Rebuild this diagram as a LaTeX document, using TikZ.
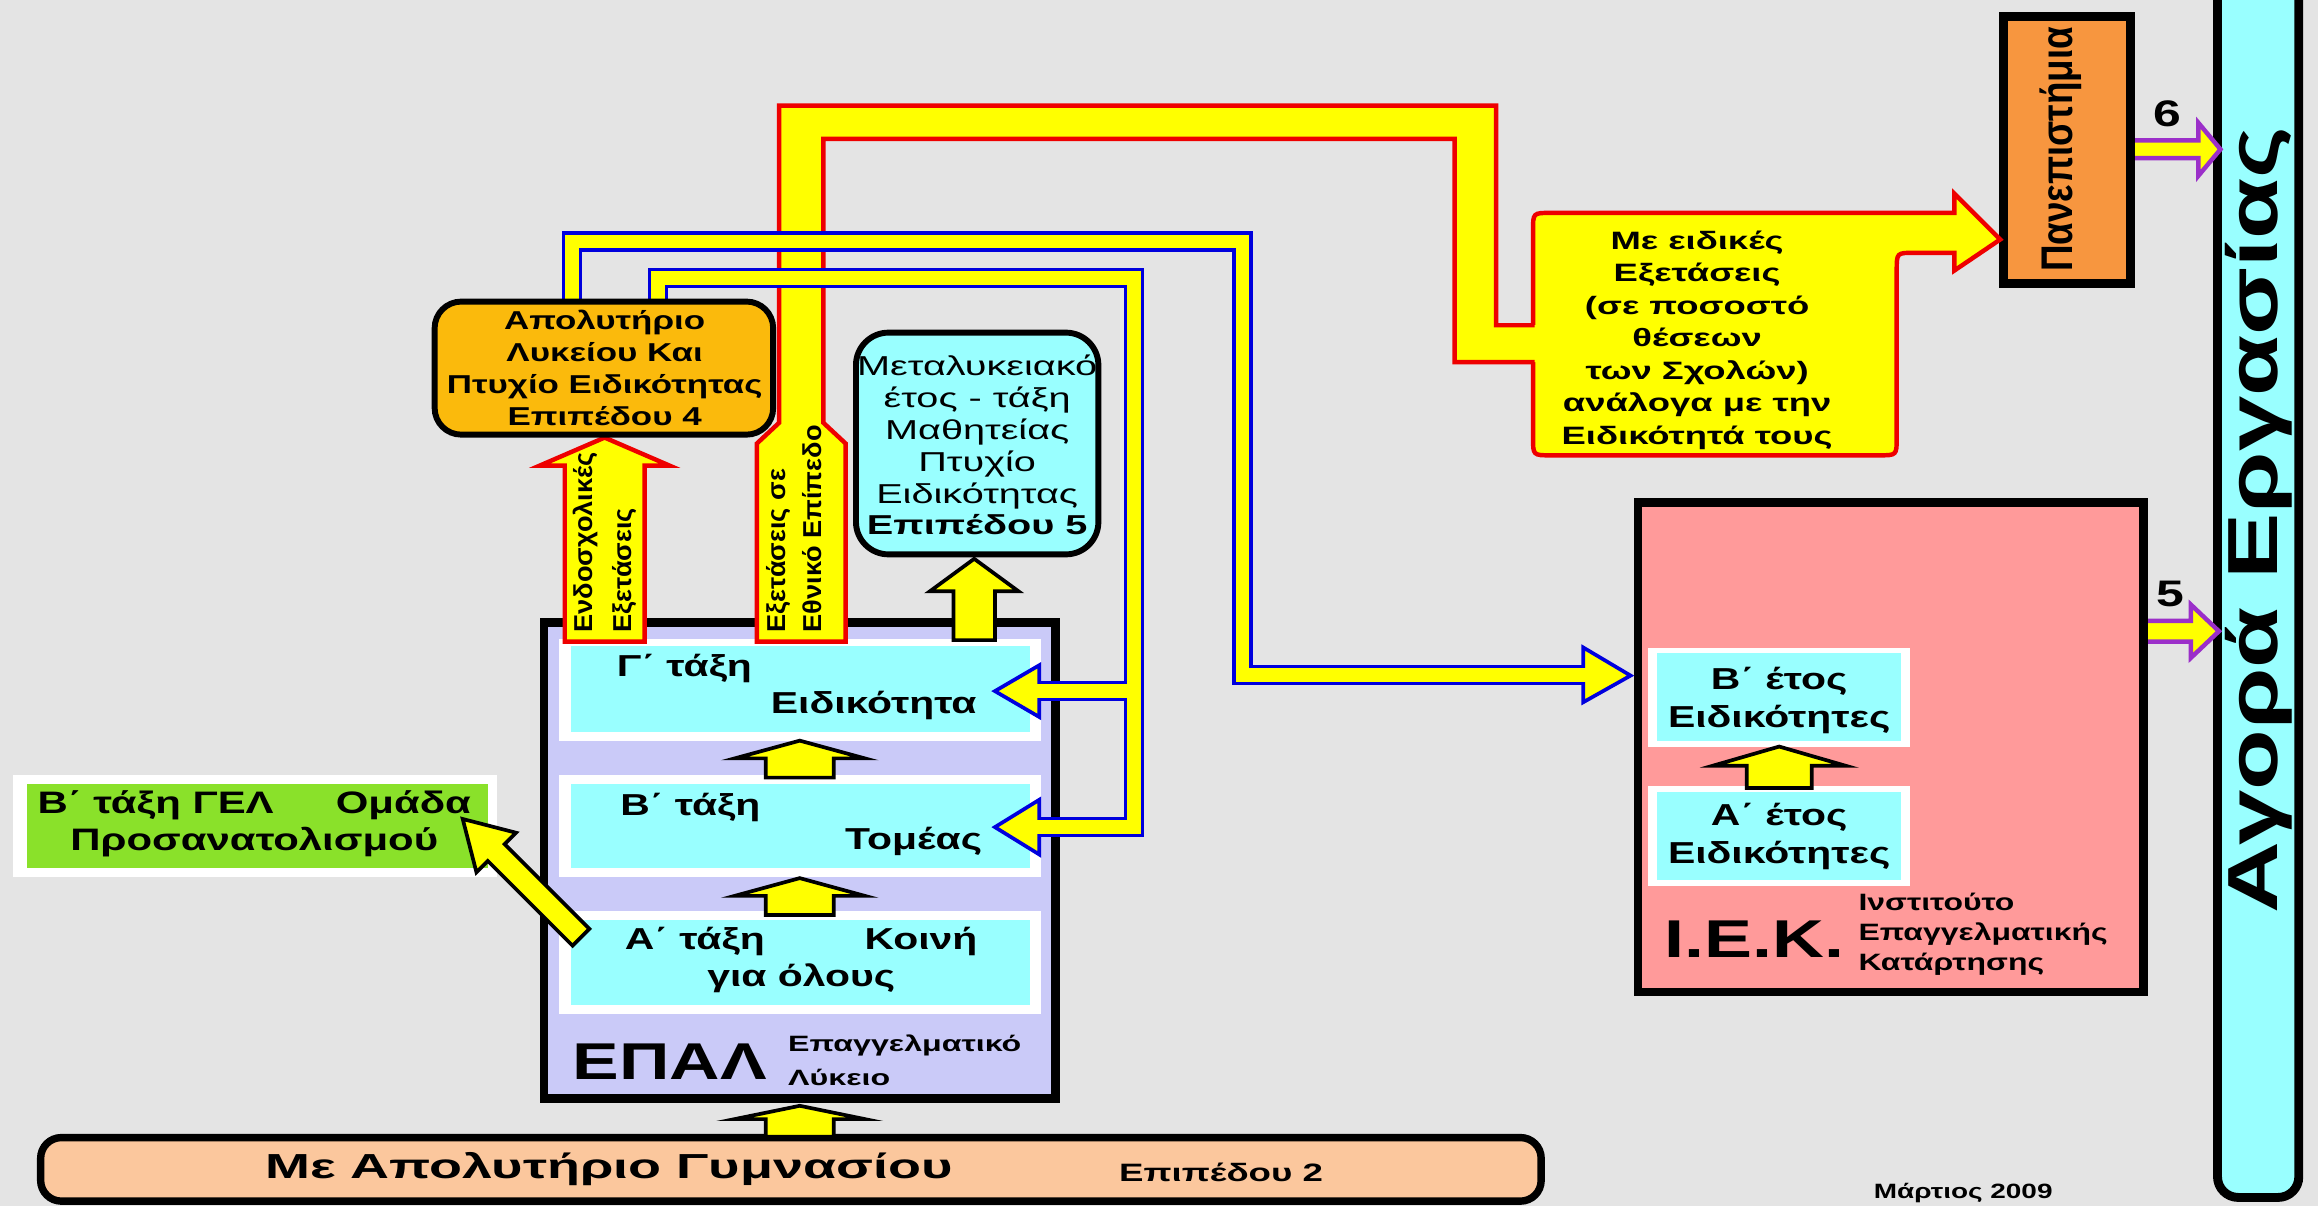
\documentclass[tikz,border=0pt]{standalone}
\usepackage{fontspec}
\setmainfont{Liberation Sans}[FakeStretch=1.35]
\newfontfamily\fN{Liberation Sans}[FakeStretch=1.05]
\newfontfamily\fP{Liberation Sans}[FakeStretch=0.83]
\newfontfamily\fW{Liberation Sans}[FakeStretch=1.4]
\newfontfamily\fM{Liberation Sans}[FakeStretch=1.45]
\newfontfamily\fC{Liberation Sans}[FakeStretch=1.45]
\newcommand\fsz[2]{\fontsize{#1}{#2}\selectfont}
\definecolor{bgc}{HTML}{E4E4E4}
\definecolor{cyanc}{HTML}{99FFFF}
\definecolor{peach}{HTML}{FBC79D}
\definecolor{lav}{HTML}{CACAF8}
\definecolor{greenc}{HTML}{8AE12A}
\definecolor{orangec}{HTML}{FBBA0C}
\definecolor{unic}{HTML}{F7963F}
\definecolor{pinkc}{HTML}{FF9A9A}
\definecolor{yel}{HTML}{FFFF00}
\definecolor{redc}{HTML}{EE0000}
\definecolor{bluec}{HTML}{0000DD}
\definecolor{purp}{HTML}{9B2FC9}
\newcommand\UpArr[7][yarrow]{\draw[#1] ({#2-#6},#4) -- (#2,#3) -- ({#2+#6},#4) -- ({#2+#7},#4) -- ({#2+#7},#5) -- ({#2-#7},#5) -- ({#2-#7},#4) -- cycle;}
\begin{document}
\begin{tikzpicture}[x=1pt,y=-1pt,line join=miter,
  box/.style={draw=black,inner sep=0,line width=#1},
  txt/.style={inner sep=0,align=center,text=black},
  yarrow/.style={fill=yel,draw=black,line width=2.5},
  rarrow/.style={fill=yel,draw=redc,line width=3},
  parrow/.style={fill=yel,draw=purp,line width=3},
  barrow/.style={fill=yel,draw=bluec,line width=2.5},
  bandout/.style={draw=bluec,line width=14},
  bandin/.style={draw=yel,line width=9}]
\fill[bgc] (0,0) rectangle (1568,816);
\useasboundingbox (0,0) rectangle (1568,816);
\clip (0,0) rectangle (1568,816);

% labour market bar
\node[box=6,fill=cyanc,rounded corners=14,minimum width=55,minimum height=860] (agora) at (1527.5,380) {};
\node[txt,rotate=90,font=\fW\bfseries\fsz{48}{50}] (agoraT) at (1528,352) {Αγορά Εργασίας};

% purple arrows 6 and 5
\draw[parrow] (1441,95) -- (1487,95) -- (1487,83) -- (1502,101) -- (1487,119) -- (1487,107) -- (1441,107);
\draw[parrow] (1449,420) -- (1482,420) -- (1482,409) -- (1501,427) -- (1482,445) -- (1482,434) -- (1449,434);

% universities
\node[box=6,fill=unic,minimum width=86,minimum height=181] (uni) at (1398,101.5) {};
\node[txt,rotate=90,font=\fP\bfseries\fsz{30}{32}] (uniT) at (1394,101) {Πανεπιστήμια};
\node[txt,font=\bfseries\fsz{25}{25}] (six) at (1466,77) {6};
\node[txt,font=\bfseries\fsz{25}{25}] (five) at (1468,402) {5};

% IEK
\node[box=6,fill=pinkc,minimum width=342,minimum height=331] (iek) at (1279,505.5) {};
\node[fill=white,inner sep=0,minimum width=177,minimum height=67] (ibw) at (1203.5,471.5) {};
\node[fill=cyanc,inner sep=0,minimum width=165,minimum height=59] (ib) at (1203.5,471.5) {};
\node[fill=white,inner sep=0,minimum width=177,minimum height=67] (iaw) at (1203.5,565.5) {};
\node[fill=cyanc,inner sep=0,minimum width=165,minimum height=59] (ia) at (1203.5,565.5) {};
\UpArr{1203.5}{505}{518}{533}{45}{22}
\node[txt,font=\bfseries\fsz{20.5}{25.5}] (ibT) at (1203.5,474) {Β΄ έτος\\Ειδικότητες};
\node[txt,font=\bfseries\fsz{20.5}{25.5}] (iaT) at (1203.5,566) {Α΄ έτος\\Ειδικότητες};
\node[txt,font=\bfseries\fsz{36}{36}] (iekT) at (1187,635) {Ι.Ε.Κ.};
\node[txt,align=left,anchor=west,font=\bfseries\fsz{16}{20.5}] (iekS) at (1257,632) {Ινστιτούτο\\Επαγγελματικής\\Κατάρτησης};

% gymnasium bar
\node[box=5,fill=peach,rounded corners=14,minimum width=1015,minimum height=43] (gym) at (535,791) {};
\node[txt,font=\bfseries\fsz{23.5}{24}] (gymT) at (412,791) {\scalebox{1.15}[1]{Με Απολυτήριο Γυμνασίου}};
\node[txt,font=\bfseries\fsz{17}{17}] (gymL) at (826,793) {\scalebox{1.08}[1]{Επιπέδου 2}};

% EPAL
\node[box=6,fill=lav,minimum width=346,minimum height=322] (epal) at (541,582) {};
\node[fill=white,inner sep=0,minimum width=326,minimum height=69] (gw) at (541,466.5) {};
\node[fill=cyanc,inner sep=0,minimum width=311,minimum height=58] (g) at (541.5,466) {};
\node[fill=white,inner sep=0,minimum width=326,minimum height=69] (bw) at (541,558.5) {};
\node[fill=cyanc,inner sep=0,minimum width=311,minimum height=57] (b) at (541.5,558.5) {};
\node[fill=white,inner sep=0,minimum width=326,minimum height=70] (aw) at (541,651) {};
\node[fill=cyanc,inner sep=0,minimum width=311,minimum height=58] (a) at (541.5,651) {};
\UpArr{541}{501}{513}{526}{44}{23}
\UpArr{541}{594}{606}{619}{44}{23}
\UpArr{541}{748}{757}{769}{44}{23}
\tikzset{stxt/.style={txt,font=\bfseries\fsz{20.5}{20.5}}}
\node[stxt] (gT1) at (463,452) {Γ΄ τάξη};
\node[stxt] (gT2) at (591,477) {Ειδικότητα};
\node[stxt] (bT1) at (467,546) {Β΄ τάξη};
\node[stxt] (bT2) at (618,569) {Τομέας};
\node[stxt] (aT1) at (470,637) {Α΄ τάξη};
\node[stxt] (aT2) at (623,637) {Κοινή};
\node[stxt] (aT3) at (542,662) {για όλους};
\node[txt,font=\bfseries\fsz{35}{35}] (epalT) at (453,718) {ΕΠΑΛ};
\node[txt,anchor=west,font=\fM\bfseries\fsz{15}{15}] (epalS1) at (533,707) {Επαγγελματικό};
\node[txt,anchor=west,font=\fM\bfseries\fsz{15}{15}] (epalS2) at (533,729) {Λύκειο};

% green box
\node[fill=white,inner sep=0,minimum width=327,minimum height=69] (gelw) at (172.5,558.5) {};
\node[fill=greenc,inner sep=0,minimum width=312,minimum height=57] (gel) at (174,558.5) {};
\node[txt,font=\bfseries\fsz{21}{25}] (gelT) at (172,557) {Β΄ τάξη ΓΕΛ\hspace{42pt}Ομάδα\\Προσανατολισμού};

% callout
\draw[fill=yel,draw=redc,line width=3] (1037,226) -- (1037,156) .. controls (1037,144) .. (1049,144) -- (1322,144) -- (1322,131) -- (1353,162) -- (1322,183) -- (1322,171) -- (1295,171) .. controls (1283,171) .. (1283,183) -- (1283,296) .. controls (1283,308) .. (1271,308) -- (1049,308) .. controls (1037,308) .. (1037,296) -- cycle;

% national exams band
\fill[yel] (1039,220) -- (1012,220) -- (1012,71.5) -- (527,71.5) -- (527,286) -- (512,300) -- (512,434) -- (572,434) -- (572,300) -- (557,286) -- (557,94) -- (984,94) -- (984,245) -- (1039,245) -- cycle;
\draw[redc,line width=3] (1038,220) -- (1012,220) -- (1012,71.5) -- (527,71.5) -- (527,286) -- (512,300) -- (512,434) -- (572,434) -- (572,300) -- (557,286) -- (557,94) -- (984,94) -- (984,245) -- (1038,245);
\UpArr[rarrow]{409}{296}{315}{434}{44}{27}
\UpArr{659}{378}{400}{433}{30}{14}

% blue bands
\draw[barrow] (1071,438) -- (1103,457) -- (1071,475) -- cycle;
\draw[barrow] (703,450) -- (673,467.5) -- (703,485) -- cycle;
\draw[barrow] (703,541) -- (673,559.5) -- (703,578) -- cycle;
\draw[bandout] (387,215) -- (387,163.5) -- (840.5,163.5) -- (840.5,456.5) -- (1071,456.5);
\draw[bandout] (445,215) -- (445,188) -- (767,188) -- (767,559.5) -- (703,559.5);
\draw[bandout] (767,467.5) -- (703,467.5);
\draw[bandin] (387,215) -- (387,163.5) -- (840.5,163.5) -- (840.5,456.5) -- (1074,456.5);
\draw[bandin] (445,215) -- (445,188) -- (767,188) -- (767,559.5) -- (700,559.5);
\draw[bandin] (767,467.5) -- (700,467.5);

% certificate boxes
\node[box=4,fill=orangec,rounded corners=18,minimum width=229,minimum height=90] (apol) at (408.5,249) {};
\node[txt,font=\bfseries\fsz{17.5}{21.7}] (apolT) at (409,249) {Απολυτήριο\\Λυκείου Και\\Πτυχίο Ειδικότητας\\Επιπέδου 4};
\node[box=4,fill=cyanc,rounded corners=22,minimum width=164,minimum height=150] (meta) at (661,300) {};
\node[txt,font=\fM\fsz{18.5}{21.6}] (metaT) at (661,301) {Μεταλυκειακό\\έτος - τάξη\\Μαθητείας\\Πτυχίο\\Ειδικότητας\\\bfseries Επιπέδου 5};

% diagonal arrow to GEL
\draw[yarrow] (398.7,628.3) -- (341.4,571.0) -- (349.1,563.3) -- (313,554) -- (322.3,590.1) -- (330.0,582.4) -- (387.3,639.7) -- cycle;

% texts
\node[txt,font=\fC\bfseries\fsz{17}{22}] (callT) at (1148,230) {Με ειδικές\\Εξετάσεις\\(σε ποσοστό\\θέσεων\\των Σχολών)\\ανάλογα με την\\Ειδικότητά τους};
\node[txt,rotate=90,anchor=west,align=left,font=\fN\bfseries\fsz{17.5}{26}] (endoT) at (409,428) {Ενδοσχολικές\\Εξετάσεις};
\node[txt,rotate=90,anchor=west,align=left,font=\fN\bfseries\fsz{17.5}{24}] (ethT) at (537,428) {Εξετάσεις σε\\Εθνικό Επίπεδο};
\node[txt,anchor=south,font=\bfseries\fsz{14}{14}] (date) at (1328,814) {Μάρτιος 2009};
\end{tikzpicture}
\end{document}
